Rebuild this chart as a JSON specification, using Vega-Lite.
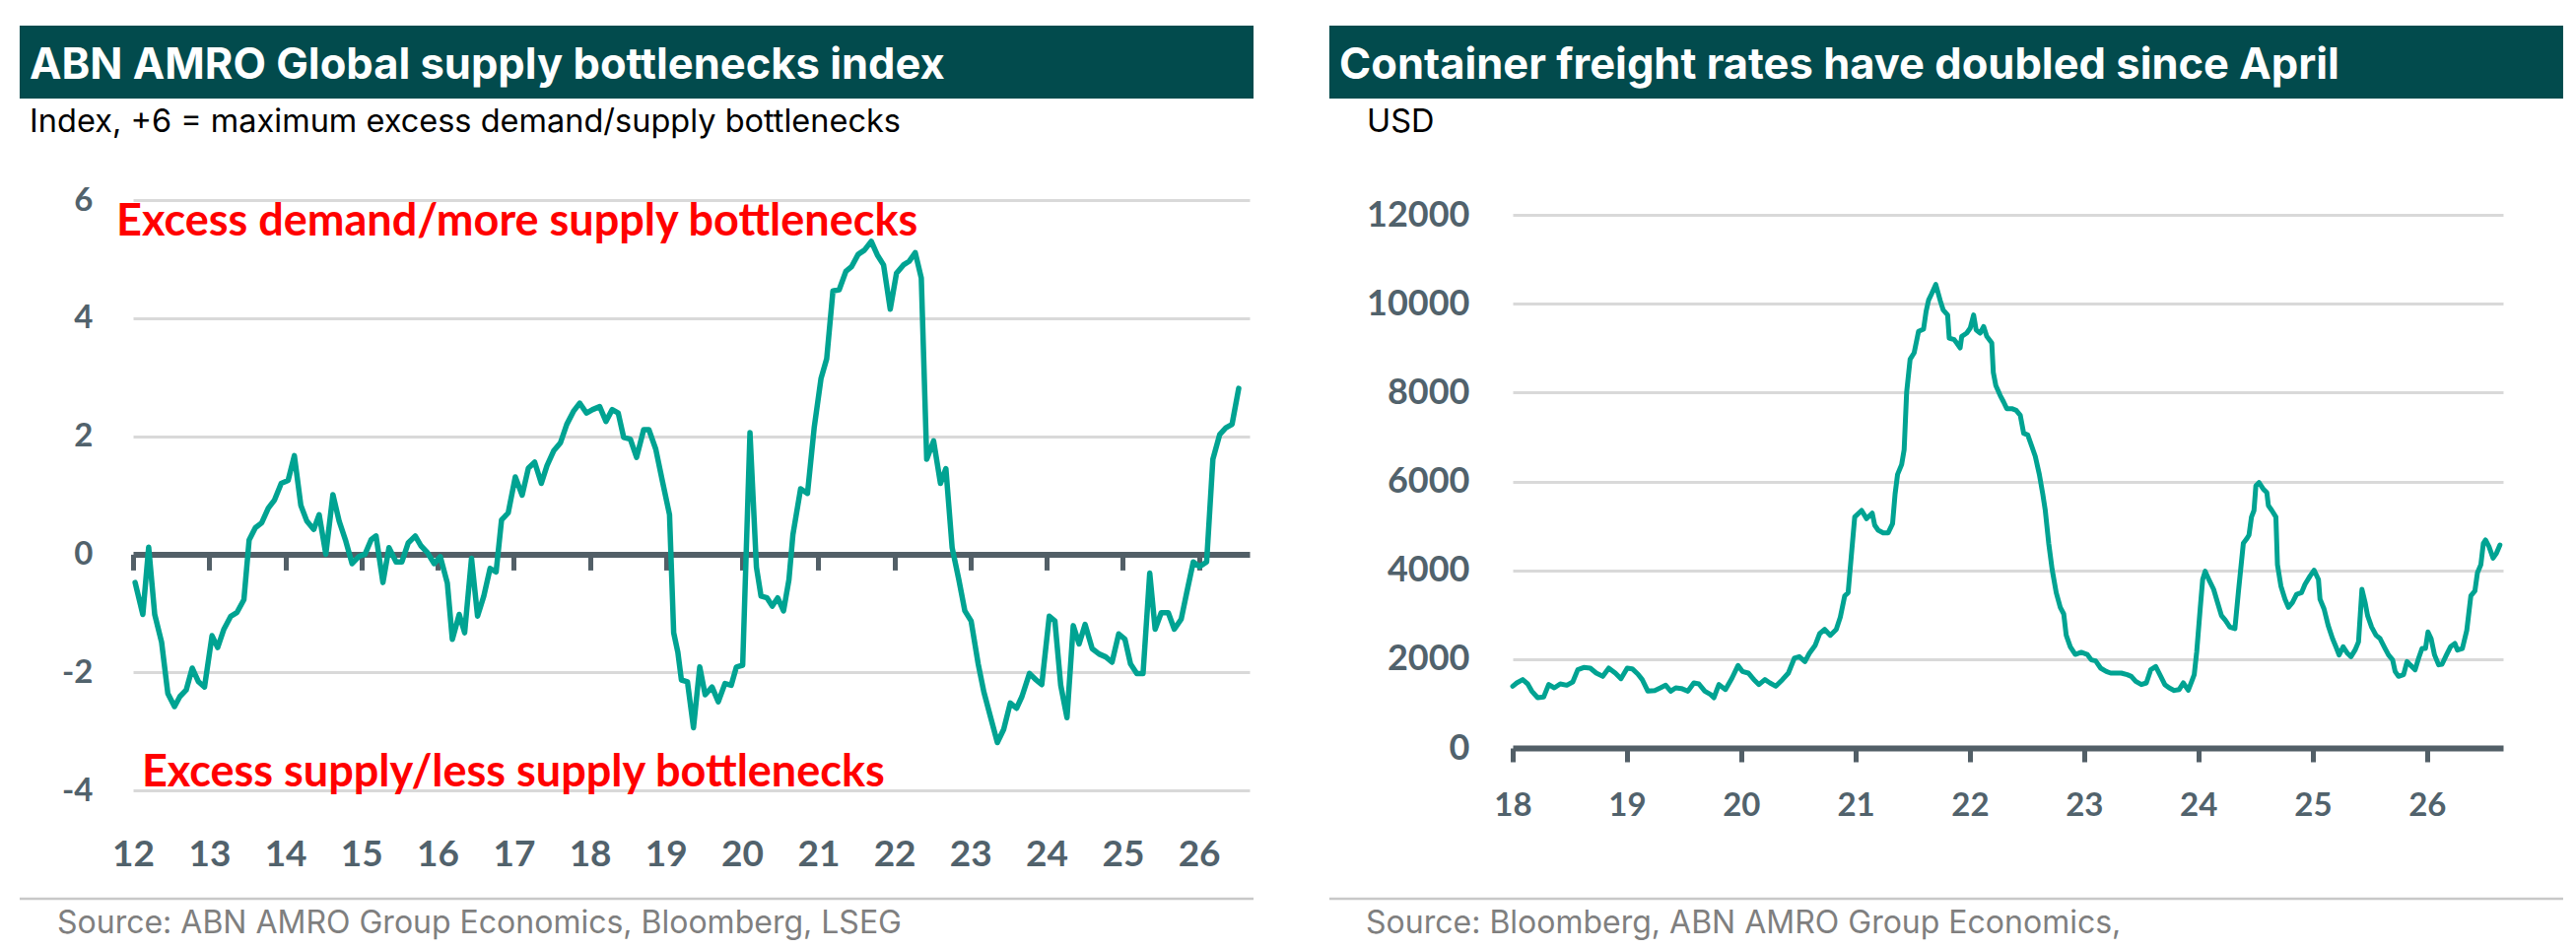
{
  "$schema": "https://vega.github.io/schema/vega-lite/v6.json",
  "padding": {"left": 18, "top": 25, "right": 10, "bottom": 10},
  "background": "white",
  "spacing": 73,
  "config": {"view": {"stroke": null}},
  "datasets": {
    "one": [{"item": "annotation"}],
    "bottleneck": [
      {"date": "2012-01-11", "value": -0.48}, {"date": "2012-02-17", "value": -1.02}, {"date": "2012-03-16", "value": 0.12},
      {"date": "2012-04-14", "value": -1.02}, {"date": "2012-05-17", "value": -1.49}, {"date": "2012-06-16", "value": -2.36},
      {"date": "2012-07-18", "value": -2.58}, {"date": "2012-08-13", "value": -2.41}, {"date": "2012-09-12", "value": -2.30},
      {"date": "2012-10-11", "value": -1.93}, {"date": "2012-11-10", "value": -2.16}, {"date": "2012-12-09", "value": -2.25},
      {"date": "2013-01-14", "value": -1.38}, {"date": "2013-02-10", "value": -1.58}, {"date": "2013-03-12", "value": -1.27},
      {"date": "2013-04-14", "value": -1.05}, {"date": "2013-05-13", "value": -0.99}, {"date": "2013-06-16", "value": -0.77},
      {"date": "2013-07-11", "value": 0.24}, {"date": "2013-08-10", "value": 0.45}, {"date": "2013-09-09", "value": 0.53},
      {"date": "2013-10-11", "value": 0.78}, {"date": "2013-11-10", "value": 0.92}, {"date": "2013-12-12", "value": 1.20},
      {"date": "2014-01-14", "value": 1.25}, {"date": "2014-02-13", "value": 1.67}, {"date": "2014-03-16", "value": 0.83},
      {"date": "2014-04-14", "value": 0.56}, {"date": "2014-05-17", "value": 0.42}, {"date": "2014-06-12", "value": 0.67},
      {"date": "2014-07-14", "value": 0.00}, {"date": "2014-08-17", "value": 1.01}, {"date": "2014-09-16", "value": 0.56},
      {"date": "2014-10-18", "value": 0.22}, {"date": "2014-11-17", "value": -0.16}, {"date": "2014-12-19", "value": -0.04},
      {"date": "2015-01-18", "value": 0.00}, {"date": "2015-02-17", "value": 0.25}, {"date": "2015-03-12", "value": 0.31},
      {"date": "2015-04-14", "value": -0.48}, {"date": "2015-05-13", "value": 0.11}, {"date": "2015-06-16", "value": -0.13},
      {"date": "2015-07-14", "value": -0.13}, {"date": "2015-08-13", "value": 0.19}, {"date": "2015-09-16", "value": 0.31},
      {"date": "2015-10-14", "value": 0.14}, {"date": "2015-11-13", "value": 0.03}, {"date": "2015-12-16", "value": -0.16},
      {"date": "2016-01-14", "value": -0.04}, {"date": "2016-02-17", "value": -0.49}, {"date": "2016-03-12", "value": -1.44},
      {"date": "2016-04-14", "value": -1.02}, {"date": "2016-05-10", "value": -1.33}, {"date": "2016-06-12", "value": -0.07},
      {"date": "2016-07-11", "value": -1.05}, {"date": "2016-08-10", "value": -0.71}, {"date": "2016-09-09", "value": -0.24},
      {"date": "2016-10-08", "value": -0.30}, {"date": "2016-11-03", "value": 0.58}, {"date": "2016-12-05", "value": 0.70},
      {"date": "2017-01-08", "value": 1.31}, {"date": "2017-02-10", "value": 1.00}, {"date": "2017-03-12", "value": 1.46},
      {"date": "2017-04-11", "value": 1.56}, {"date": "2017-05-13", "value": 1.20}, {"date": "2017-06-09", "value": 1.50},
      {"date": "2017-07-11", "value": 1.75}, {"date": "2017-08-13", "value": 1.89}, {"date": "2017-09-12", "value": 2.20},
      {"date": "2017-10-14", "value": 2.42}, {"date": "2017-11-13", "value": 2.56}, {"date": "2017-12-16", "value": 2.39},
      {"date": "2018-01-14", "value": 2.45}, {"date": "2018-02-17", "value": 2.50}, {"date": "2018-03-19", "value": 2.25},
      {"date": "2018-04-18", "value": 2.45}, {"date": "2018-05-17", "value": 2.39}, {"date": "2018-06-12", "value": 1.98},
      {"date": "2018-07-14", "value": 1.95}, {"date": "2018-08-13", "value": 1.64}, {"date": "2018-09-16", "value": 2.11},
      {"date": "2018-10-11", "value": 2.11}, {"date": "2018-11-13", "value": 1.78}, {"date": "2018-12-16", "value": 1.22},
      {"date": "2019-01-18", "value": 0.67}, {"date": "2019-02-07", "value": -1.33}, {"date": "2019-02-27", "value": -1.66},
      {"date": "2019-03-16", "value": -2.13}, {"date": "2019-04-14", "value": -2.16}, {"date": "2019-05-13", "value": -2.94},
      {"date": "2019-06-12", "value": -1.91}, {"date": "2019-07-08", "value": -2.38}, {"date": "2019-08-10", "value": -2.25},
      {"date": "2019-09-09", "value": -2.50}, {"date": "2019-10-11", "value": -2.19}, {"date": "2019-11-10", "value": -2.22},
      {"date": "2019-12-05", "value": -1.91}, {"date": "2020-01-04", "value": -1.88}, {"date": "2020-02-08", "value": 2.06},
      {"date": "2020-03-10", "value": -0.22}, {"date": "2020-04-01", "value": -0.71}, {"date": "2020-04-30", "value": -0.74},
      {"date": "2020-05-25", "value": -0.88}, {"date": "2020-06-20", "value": -0.74}, {"date": "2020-07-18", "value": -0.96},
      {"date": "2020-08-13", "value": -0.43}, {"date": "2020-09-01", "value": 0.33}, {"date": "2020-10-08", "value": 1.11},
      {"date": "2020-11-10", "value": 1.03}, {"date": "2020-12-12", "value": 2.14}, {"date": "2021-01-14", "value": 2.98},
      {"date": "2021-02-10", "value": 3.31}, {"date": "2021-03-12", "value": 4.46}, {"date": "2021-04-11", "value": 4.48},
      {"date": "2021-05-13", "value": 4.79}, {"date": "2021-06-09", "value": 4.87}, {"date": "2021-07-11", "value": 5.08},
      {"date": "2021-08-10", "value": 5.15}, {"date": "2021-09-12", "value": 5.30}, {"date": "2021-10-11", "value": 5.07},
      {"date": "2021-11-10", "value": 4.90}, {"date": "2021-12-12", "value": 4.15}, {"date": "2022-01-11", "value": 4.76},
      {"date": "2022-02-13", "value": 4.90}, {"date": "2022-03-12", "value": 4.96}, {"date": "2022-04-11", "value": 5.11},
      {"date": "2022-05-10", "value": 4.68}, {"date": "2022-06-05", "value": 1.61}, {"date": "2022-07-08", "value": 1.92},
      {"date": "2022-08-10", "value": 1.20}, {"date": "2022-09-05", "value": 1.45}, {"date": "2022-10-05", "value": 0.11},
      {"date": "2022-11-06", "value": -0.43}, {"date": "2022-12-05", "value": -0.96}, {"date": "2023-01-04", "value": -1.13},
      {"date": "2023-02-07", "value": -1.86}, {"date": "2023-03-06", "value": -2.33}, {"date": "2023-04-08", "value": -2.77},
      {"date": "2023-05-10", "value": -3.19}, {"date": "2023-06-09", "value": -2.97}, {"date": "2023-07-11", "value": -2.52},
      {"date": "2023-08-10", "value": -2.61}, {"date": "2023-09-05", "value": -2.41}, {"date": "2023-10-11", "value": -2.02},
      {"date": "2023-11-06", "value": -2.11}, {"date": "2023-12-09", "value": -2.21}, {"date": "2024-01-14", "value": -1.05},
      {"date": "2024-02-10", "value": -1.13}, {"date": "2024-03-09", "value": -2.22}, {"date": "2024-04-08", "value": -2.77},
      {"date": "2024-05-08", "value": -1.21}, {"date": "2024-06-05", "value": -1.52}, {"date": "2024-07-04", "value": -1.19},
      {"date": "2024-08-07", "value": -1.60}, {"date": "2024-09-09", "value": -1.69}, {"date": "2024-10-11", "value": -1.74},
      {"date": "2024-11-10", "value": -1.83}, {"date": "2024-12-12", "value": -1.35}, {"date": "2025-01-11", "value": -1.44},
      {"date": "2025-02-07", "value": -1.86}, {"date": "2025-03-09", "value": -2.02}, {"date": "2025-04-08", "value": -2.02},
      {"date": "2025-05-10", "value": -0.32}, {"date": "2025-06-05", "value": -1.27}, {"date": "2025-07-04", "value": -0.99},
      {"date": "2025-08-07", "value": -0.99}, {"date": "2025-09-05", "value": -1.27}, {"date": "2025-10-08", "value": -1.10},
      {"date": "2025-11-03", "value": -0.66}, {"date": "2025-12-05", "value": -0.13}, {"date": "2026-01-04", "value": -0.21},
      {"date": "2026-02-07", "value": -0.13}, {"date": "2026-03-09", "value": 1.61}, {"date": "2026-04-11", "value": 2.03},
      {"date": "2026-05-10", "value": 2.14}, {"date": "2026-06-09", "value": 2.20}, {"date": "2026-07-11", "value": 2.81}
    ],
    "freight": [
      {"date": "2018-01-01", "value": 1390}, {"date": "2018-01-14", "value": 1464}, {"date": "2018-02-02", "value": 1538},
      {"date": "2018-02-18", "value": 1442}, {"date": "2018-03-03", "value": 1279}, {"date": "2018-03-22", "value": 1131},
      {"date": "2018-04-10", "value": 1146}, {"date": "2018-04-26", "value": 1427}, {"date": "2018-05-14", "value": 1353},
      {"date": "2018-06-02", "value": 1442}, {"date": "2018-06-23", "value": 1412}, {"date": "2018-07-12", "value": 1486},
      {"date": "2018-07-28", "value": 1760}, {"date": "2018-08-16", "value": 1812}, {"date": "2018-09-06", "value": 1797},
      {"date": "2018-09-25", "value": 1686}, {"date": "2018-10-16", "value": 1612}, {"date": "2018-11-04", "value": 1797},
      {"date": "2018-11-25", "value": 1686}, {"date": "2018-12-13", "value": 1560}, {"date": "2019-01-02", "value": 1797},
      {"date": "2019-01-18", "value": 1782}, {"date": "2019-02-05", "value": 1664}, {"date": "2019-02-19", "value": 1538},
      {"date": "2019-03-09", "value": 1279}, {"date": "2019-03-31", "value": 1294}, {"date": "2019-04-18", "value": 1353},
      {"date": "2019-05-05", "value": 1412}, {"date": "2019-05-21", "value": 1279}, {"date": "2019-06-06", "value": 1353},
      {"date": "2019-06-24", "value": 1338}, {"date": "2019-07-15", "value": 1279}, {"date": "2019-08-03", "value": 1464},
      {"date": "2019-08-19", "value": 1442}, {"date": "2019-09-07", "value": 1279}, {"date": "2019-09-25", "value": 1205},
      {"date": "2019-10-06", "value": 1131}, {"date": "2019-10-22", "value": 1427}, {"date": "2019-11-12", "value": 1316},
      {"date": "2019-12-03", "value": 1575}, {"date": "2019-12-22", "value": 1856}, {"date": "2020-01-05", "value": 1723},
      {"date": "2020-01-24", "value": 1686}, {"date": "2020-02-11", "value": 1538}, {"date": "2020-02-27", "value": 1427},
      {"date": "2020-03-17", "value": 1538}, {"date": "2020-04-02", "value": 1464}, {"date": "2020-04-21", "value": 1390},
      {"date": "2020-05-12", "value": 1538}, {"date": "2020-05-31", "value": 1686}, {"date": "2020-06-19", "value": 2019},
      {"date": "2020-07-05", "value": 2056}, {"date": "2020-07-23", "value": 1945}, {"date": "2020-08-06", "value": 2129},
      {"date": "2020-08-25", "value": 2314}, {"date": "2020-09-08", "value": 2573}, {"date": "2020-09-24", "value": 2669},
      {"date": "2020-10-12", "value": 2536}, {"date": "2020-10-31", "value": 2669}, {"date": "2020-11-13", "value": 2943},
      {"date": "2020-11-27", "value": 3423}, {"date": "2020-12-08", "value": 3497}, {"date": "2020-12-18", "value": 4311},
      {"date": "2020-12-29", "value": 5198}, {"date": "2021-01-20", "value": 5346}, {"date": "2021-02-05", "value": 5161},
      {"date": "2021-02-23", "value": 5287}, {"date": "2021-03-03", "value": 5013}, {"date": "2021-03-14", "value": 4902},
      {"date": "2021-03-30", "value": 4843}, {"date": "2021-04-15", "value": 4843}, {"date": "2021-04-29", "value": 5050},
      {"date": "2021-05-07", "value": 5715}, {"date": "2021-05-15", "value": 6159}, {"date": "2021-05-28", "value": 6381},
      {"date": "2021-06-05", "value": 6714}, {"date": "2021-06-13", "value": 8008}, {"date": "2021-06-24", "value": 8747},
      {"date": "2021-07-07", "value": 8895}, {"date": "2021-07-21", "value": 9375}, {"date": "2021-08-06", "value": 9427},
      {"date": "2021-08-14", "value": 9819}, {"date": "2021-08-22", "value": 10078}, {"date": "2021-09-01", "value": 10226},
      {"date": "2021-09-14", "value": 10433}, {"date": "2021-09-28", "value": 10078}, {"date": "2021-10-08", "value": 9856},
      {"date": "2021-10-22", "value": 9745}, {"date": "2021-10-27", "value": 9227}, {"date": "2021-11-12", "value": 9190},
      {"date": "2021-11-20", "value": 9117}, {"date": "2021-12-01", "value": 9006}, {"date": "2021-12-06", "value": 9265},
      {"date": "2021-12-22", "value": 9338}, {"date": "2022-01-02", "value": 9449}, {"date": "2022-01-13", "value": 9745},
      {"date": "2022-01-21", "value": 9412}, {"date": "2022-02-03", "value": 9338}, {"date": "2022-02-14", "value": 9486},
      {"date": "2022-02-24", "value": 9265}, {"date": "2022-03-12", "value": 9117}, {"date": "2022-03-17", "value": 8451},
      {"date": "2022-03-25", "value": 8156}, {"date": "2022-04-08", "value": 7934}, {"date": "2022-04-19", "value": 7786},
      {"date": "2022-04-29", "value": 7638}, {"date": "2022-05-15", "value": 7638}, {"date": "2022-05-29", "value": 7601},
      {"date": "2022-06-11", "value": 7490}, {"date": "2022-06-22", "value": 7083}, {"date": "2022-07-05", "value": 7046},
      {"date": "2022-07-18", "value": 6788}, {"date": "2022-07-29", "value": 6566}, {"date": "2022-08-11", "value": 6159},
      {"date": "2022-08-22", "value": 5715}, {"date": "2022-08-30", "value": 5346}, {"date": "2022-09-10", "value": 4606},
      {"date": "2022-09-21", "value": 4015}, {"date": "2022-10-04", "value": 3497}, {"date": "2022-10-17", "value": 3165},
      {"date": "2022-10-28", "value": 3017}, {"date": "2022-11-05", "value": 2536}, {"date": "2022-11-18", "value": 2277},
      {"date": "2022-12-04", "value": 2107}, {"date": "2022-12-23", "value": 2152}, {"date": "2023-01-11", "value": 2107},
      {"date": "2023-01-24", "value": 1982}, {"date": "2023-02-07", "value": 1959}, {"date": "2023-02-23", "value": 1797},
      {"date": "2023-03-13", "value": 1723}, {"date": "2023-03-27", "value": 1686}, {"date": "2023-04-14", "value": 1686},
      {"date": "2023-04-30", "value": 1686}, {"date": "2023-05-19", "value": 1649}, {"date": "2023-06-01", "value": 1612},
      {"date": "2023-06-15", "value": 1501}, {"date": "2023-07-03", "value": 1427}, {"date": "2023-07-19", "value": 1464},
      {"date": "2023-08-02", "value": 1760}, {"date": "2023-08-18", "value": 1834}, {"date": "2023-09-03", "value": 1612},
      {"date": "2023-09-16", "value": 1427}, {"date": "2023-09-30", "value": 1353}, {"date": "2023-10-16", "value": 1294},
      {"date": "2023-11-01", "value": 1316}, {"date": "2023-11-14", "value": 1464}, {"date": "2023-11-30", "value": 1301},
      {"date": "2023-12-11", "value": 1501}, {"date": "2023-12-19", "value": 1649}, {"date": "2023-12-27", "value": 2167},
      {"date": "2024-01-07", "value": 3128}, {"date": "2024-01-15", "value": 3793}, {"date": "2024-01-23", "value": 3978},
      {"date": "2024-02-06", "value": 3756}, {"date": "2024-02-19", "value": 3571}, {"date": "2024-03-04", "value": 3239},
      {"date": "2024-03-15", "value": 2980}, {"date": "2024-03-28", "value": 2869}, {"date": "2024-04-11", "value": 2721},
      {"date": "2024-04-27", "value": 2684}, {"date": "2024-05-08", "value": 3497}, {"date": "2024-05-24", "value": 4607},
      {"date": "2024-06-03", "value": 4700}, {"date": "2024-06-11", "value": 4791}, {"date": "2024-06-19", "value": 5198},
      {"date": "2024-06-27", "value": 5346}, {"date": "2024-07-03", "value": 5900}, {"date": "2024-07-13", "value": 5974},
      {"date": "2024-07-27", "value": 5826}, {"date": "2024-08-07", "value": 5752}, {"date": "2024-08-12", "value": 5457},
      {"date": "2024-08-23", "value": 5346}, {"date": "2024-09-05", "value": 5198}, {"date": "2024-09-10", "value": 4126},
      {"date": "2024-09-21", "value": 3645}, {"date": "2024-10-04", "value": 3349}, {"date": "2024-10-15", "value": 3165},
      {"date": "2024-10-28", "value": 3276}, {"date": "2024-11-10", "value": 3460}, {"date": "2024-11-26", "value": 3497},
      {"date": "2024-12-07", "value": 3682}, {"date": "2024-12-23", "value": 3867}, {"date": "2025-01-05", "value": 4000},
      {"date": "2025-01-19", "value": 3793}, {"date": "2025-01-24", "value": 3349}, {"date": "2025-02-06", "value": 3128},
      {"date": "2025-02-19", "value": 2758}, {"date": "2025-03-05", "value": 2462}, {"date": "2025-03-18", "value": 2240},
      {"date": "2025-03-26", "value": 2093}, {"date": "2025-04-08", "value": 2277}, {"date": "2025-04-22", "value": 2129},
      {"date": "2025-05-03", "value": 2056}, {"date": "2025-05-16", "value": 2203}, {"date": "2025-05-27", "value": 2388},
      {"date": "2025-06-07", "value": 3571}, {"date": "2025-06-17", "value": 3276}, {"date": "2025-06-25", "value": 2980},
      {"date": "2025-07-08", "value": 2721}, {"date": "2025-07-22", "value": 2536}, {"date": "2025-08-04", "value": 2462},
      {"date": "2025-08-20", "value": 2240}, {"date": "2025-08-31", "value": 2093}, {"date": "2025-09-13", "value": 1982},
      {"date": "2025-09-21", "value": 1723}, {"date": "2025-10-02", "value": 1612}, {"date": "2025-10-18", "value": 1649},
      {"date": "2025-10-29", "value": 1945}, {"date": "2025-11-08", "value": 1871}, {"date": "2025-11-24", "value": 1760},
      {"date": "2025-12-05", "value": 2019}, {"date": "2025-12-16", "value": 2240}, {"date": "2025-12-27", "value": 2240},
      {"date": "2026-01-04", "value": 2610}, {"date": "2026-01-14", "value": 2462}, {"date": "2026-01-25", "value": 2093},
      {"date": "2026-02-07", "value": 1871}, {"date": "2026-02-18", "value": 1886}, {"date": "2026-03-04", "value": 2093},
      {"date": "2026-03-17", "value": 2277}, {"date": "2026-03-31", "value": 2351}, {"date": "2026-04-08", "value": 2203},
      {"date": "2026-04-24", "value": 2240}, {"date": "2026-05-08", "value": 2647}, {"date": "2026-05-21", "value": 3423},
      {"date": "2026-06-03", "value": 3534}, {"date": "2026-06-11", "value": 3941}, {"date": "2026-06-22", "value": 4126},
      {"date": "2026-06-30", "value": 4607}, {"date": "2026-07-07", "value": 4681}, {"date": "2026-07-18", "value": 4533},
      {"date": "2026-07-31", "value": 4274}, {"date": "2026-08-11", "value": 4385}, {"date": "2026-08-22", "value": 4570}
    ]
  },
  "hconcat": [
    {
      "width": 1133,
      "height": 599,
      "layer": [
        {
          "data": {"name": "one"},
          "mark": {"type": "rect", "color": "#024b4d"},
          "encoding": {
            "x": {"datum": {"year": 2010, "month": 7, "date": 6}, "type": "temporal", "title": null},
            "x2": {"datum": {"year": 2026, "month": 9, "date": 20}},
            "y": {"datum": 8.955, "type": "quantitative", "title": null},
            "y2": {"datum": 7.72}
          }
        },
        {
          "data": {"name": "one"},
          "mark": {"type": "text", "align": "left", "baseline": "alphabetic", "font": "Inter", "fontSize": 43.5, "fontWeight": "bold", "color": "#ffffff"},
          "encoding": {
            "x": {"datum": {"year": 2010, "month": 8, "date": 23}, "type": "temporal", "title": null},
            "y": {"datum": 8.053, "type": "quantitative", "title": null},
            "text": {"value": "ABN AMRO Global supply bottlenecks index"}
          }
        },
        {
          "data": {"name": "one"},
          "mark": {"type": "text", "align": "left", "baseline": "alphabetic", "font": "Inter", "fontSize": 32.5, "color": "#000000"},
          "encoding": {
            "x": {"datum": {"year": 2010, "month": 8, "date": 23}, "type": "temporal", "title": null},
            "y": {"datum": 7.152, "type": "quantitative", "title": null},
            "text": {"value": "Index, +6 = maximum excess demand/supply bottlenecks"}
          }
        },
        {
          "data": {"name": "bottleneck"},
          "mark": {"type": "line", "color": "#00a392", "strokeWidth": 5.5, "strokeJoin": "round", "strokeCap": "round"},
          "encoding": {
            "x": {
              "field": "date", "type": "temporal", "title": null,
              "scale": {"domain": [{"year": 2012, "month": 1, "date": 1}, {"year": 2026, "month": 9, "date": 1}], "nice": false},
              "axis": {
                "orient": "bottom", "offset": -239.6, "grid": false,
                "values": [{"year": 2012, "month": 1, "date": 1}, {"year": 2013, "month": 1, "date": 1}, {"year": 2014, "month": 1, "date": 1},
                           {"year": 2015, "month": 1, "date": 1}, {"year": 2016, "month": 1, "date": 1}, {"year": 2017, "month": 1, "date": 1},
                           {"year": 2018, "month": 1, "date": 1}, {"year": 2019, "month": 1, "date": 1}, {"year": 2020, "month": 1, "date": 1},
                           {"year": 2021, "month": 1, "date": 1}, {"year": 2022, "month": 1, "date": 1}, {"year": 2023, "month": 1, "date": 1},
                           {"year": 2024, "month": 1, "date": 1}, {"year": 2025, "month": 1, "date": 1}, {"year": 2026, "month": 1, "date": 1}],
                "format": "%y",
                "domain": true, "domainColor": "#525f67", "domainWidth": 6, "domainCap": "butt",
                "ticks": true, "tickColor": "#525f67", "tickWidth": 5, "tickSize": 16,
                "labelPadding": 271, "labelFlush": false, "labelOverlap": false,
                "labelFont": "Lato", "labelFontSize": 37, "labelFontWeight": "bold", "labelColor": "#51626c"
              }
            },
            "y": {
              "field": "value", "type": "quantitative", "title": null,
              "scale": {"domain": [-4, 6], "nice": false, "zero": false},
              "axis": {
                "values": [-4, -2, 0, 2, 4, 6],
                "labelExpr": "datum.value + ''",
                "domain": false, "ticks": false, "tickSize": 0, "labelPadding": 41,
                "grid": true, "gridColor": "#d9d9d9", "gridWidth": 3,
                "gridOpacity": {"condition": {"test": "datum.value === 0", "value": 0}, "value": 1},
                "labelFont": "Lato", "labelFontSize": 33, "labelFontWeight": "bold", "labelColor": "#51626c"
              }
            }
          }
        },
        {
          "data": {"name": "one"},
          "mark": {"type": "text", "align": "left", "baseline": "alphabetic", "font": "Lato", "fontSize": 45, "fontWeight": "bold", "color": "#ff0000"},
          "encoding": {
            "x": {"datum": {"year": 2011, "month": 10, "date": 13}, "type": "temporal", "title": null},
            "y": {"datum": 5.399, "type": "quantitative", "title": null},
            "text": {"value": "Excess demand/more supply bottlenecks"}
          }
        },
        {
          "data": {"name": "one"},
          "mark": {"type": "text", "align": "left", "baseline": "alphabetic", "font": "Lato", "fontSize": 45, "fontWeight": "bold", "color": "#ff0000"},
          "encoding": {
            "x": {"datum": {"year": 2012, "month": 2, "date": 12}, "type": "temporal", "title": null},
            "y": {"datum": -3.933, "type": "quantitative", "title": null},
            "text": {"value": "Excess supply/less supply bottlenecks"}
          }
        },
        {
          "data": {"name": "one"},
          "mark": {"type": "rule", "color": "#c8c8c8", "strokeWidth": 2.5},
          "encoding": {
            "x": {"datum": {"year": 2010, "month": 7, "date": 6}, "type": "temporal", "title": null},
            "x2": {"datum": {"year": 2026, "month": 9, "date": 20}},
            "y": {"datum": -5.836, "type": "quantitative", "title": null}
          }
        },
        {
          "data": {"name": "one"},
          "mark": {"type": "text", "align": "left", "baseline": "alphabetic", "font": "Inter", "fontSize": 32, "color": "#7f7f7f"},
          "encoding": {
            "x": {"datum": {"year": 2011, "month": 1, "date": 2}, "type": "temporal", "title": null},
            "y": {"datum": -6.42, "type": "quantitative", "title": null},
            "text": {"value": "Source: ABN AMRO Group Economics, Bloomberg, LSEG"}
          }
        }
      ]
    },
    {
      "width": 1005,
      "height": 556,
      "layer": [
        {
          "data": {"name": "one"},
          "mark": {"type": "rect", "color": "#024b4d"},
          "encoding": {
            "x": {"datum": {"year": 2016, "month": 5, "date": 25}, "type": "temporal", "title": null},
            "x2": {"datum": {"year": 2027, "month": 3, "date": 12}},
            "y": {"datum": 16259, "type": "quantitative", "title": null},
            "y2": {"datum": 14618}
          }
        },
        {
          "data": {"name": "one"},
          "mark": {"type": "text", "align": "left", "baseline": "alphabetic", "font": "Inter", "fontSize": 43.5, "fontWeight": "bold", "color": "#ffffff"},
          "encoding": {
            "x": {"datum": {"year": 2016, "month": 6, "date": 26}, "type": "temporal", "title": null},
            "y": {"datum": 15061, "type": "quantitative", "title": null},
            "text": {"value": "Container freight rates have doubled since April"}
          }
        },
        {
          "data": {"name": "one"},
          "mark": {"type": "text", "align": "left", "baseline": "alphabetic", "font": "Inter", "fontSize": 32.5, "color": "#000000"},
          "encoding": {
            "x": {"datum": {"year": 2016, "month": 9, "date": 22}, "type": "temporal", "title": null},
            "y": {"datum": 13863, "type": "quantitative", "title": null},
            "text": {"value": "USD"}
          }
        },
        {
          "data": {"name": "freight"},
          "mark": {"type": "line", "color": "#00a392", "strokeWidth": 5, "strokeJoin": "round", "strokeCap": "round"},
          "encoding": {
            "x": {
              "field": "date", "type": "temporal", "title": null,
              "scale": {"domain": [{"year": 2018, "month": 1, "date": 1}, {"year": 2026, "month": 9, "date": 1}], "nice": false},
              "axis": {
                "orient": "bottom", "offset": 0, "grid": false,
                "values": [{"year": 2018, "month": 1, "date": 1}, {"year": 2019, "month": 1, "date": 1}, {"year": 2020, "month": 1, "date": 1},
                           {"year": 2021, "month": 1, "date": 1}, {"year": 2022, "month": 1, "date": 1}, {"year": 2023, "month": 1, "date": 1},
                           {"year": 2024, "month": 1, "date": 1}, {"year": 2025, "month": 1, "date": 1}, {"year": 2026, "month": 1, "date": 1}],
                "format": "%y",
                "domain": true, "domainColor": "#525f67", "domainWidth": 6, "domainCap": "butt",
                "ticks": true, "tickColor": "#525f67", "tickWidth": 5, "tickSize": 14,
                "labelPadding": 28, "labelFlush": false, "labelOverlap": false,
                "labelFont": "Lato", "labelFontSize": 33, "labelFontWeight": "bold", "labelColor": "#51626c"
              }
            },
            "y": {
              "field": "value", "type": "quantitative", "title": null,
              "scale": {"domain": [0, 12333], "nice": false, "zero": false},
              "axis": {
                "values": [0, 2000, 4000, 6000, 8000, 10000, 12000],
                "labelExpr": "datum.value + ''",
                "domain": false, "ticks": false, "tickSize": 0, "labelPadding": 44,
                "grid": true, "gridColor": "#d9d9d9", "gridWidth": 3,
                "gridOpacity": {"condition": {"test": "datum.value === 0", "value": 0}, "value": 1},
                "labelFont": "Lato", "labelFontSize": 36, "labelFontWeight": "bold", "labelColor": "#51626c"
              }
            }
          }
        },
        {
          "data": {"name": "one"},
          "mark": {"type": "rule", "color": "#c8c8c8", "strokeWidth": 2.5},
          "encoding": {
            "x": {"datum": {"year": 2016, "month": 5, "date": 25}, "type": "temporal", "title": null},
            "x2": {"datum": {"year": 2027, "month": 3, "date": 12}},
            "y": {"datum": -3393, "type": "quantitative", "title": null}
          }
        },
        {
          "data": {"name": "one"},
          "mark": {"type": "text", "align": "left", "baseline": "alphabetic", "font": "Inter", "fontSize": 32, "color": "#7f7f7f"},
          "encoding": {
            "x": {"datum": {"year": 2016, "month": 9, "date": 19}, "type": "temporal", "title": null},
            "y": {"datum": -4170, "type": "quantitative", "title": null},
            "text": {"value": "Source: Bloomberg, ABN AMRO Group Economics,"}
          }
        }
      ]
    }
  ]
}
